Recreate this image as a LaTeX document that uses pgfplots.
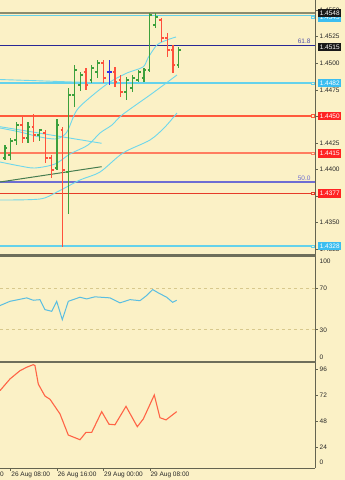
\documentclass[border=0pt]{standalone}
\usepackage{pgfplots}
\pgfplotsset{compat=1.18}
\usepackage{pgfplotstable}
\usepackage{fontspec}
\setmainfont{Liberation Sans}
\definecolor{bg}{RGB}{251,241,198}
\definecolor{barG}{RGB}{60,160,60}
\definecolor{barR}{RGB}{255,80,60}
\definecolor{barB}{RGB}{50,50,230}
\definecolor{cyanL}{RGB}{110,215,235}
\definecolor{cyanH}{RGB}{100,210,235}
\definecolor{olive}{RGB}{140,140,110}
\definecolor{navy}{RGB}{40,40,150}
\definecolor{fibblue}{RGB}{110,110,210}
\definecolor{redA}{RGB}{255,90,60}
\definecolor{redB}{RGB}{255,125,95}
\definecolor{redC}{RGB}{230,60,40}
\definecolor{dgreen}{RGB}{70,125,80}
\definecolor{rsi}{RGB}{90,190,225}
\definecolor{osc}{RGB}{255,100,70}
\definecolor{sepc}{RGB}{110,110,90}
\definecolor{axgray}{RGB}{100,100,80}
\definecolor{lvl}{RGB}{215,200,140}
\definecolor{boxK}{RGB}{25,25,25}
\definecolor{boxC}{RGB}{60,190,240}
\definecolor{boxR}{RGB}{255,35,35}
\definecolor{labc}{RGB}{40,40,40}

\pgfdeclareplotmark{openL}{\pgfpathmoveto{\pgfpoint{-2.3pt}{0pt}}\pgfpathlineto{\pgfpoint{0pt}{0pt}}\pgfusepathqstroke}
\pgfdeclareplotmark{closeR}{\pgfpathmoveto{\pgfpoint{0pt}{0pt}}\pgfpathlineto{\pgfpoint{2.3pt}{0pt}}\pgfusepathqstroke}

\pgfplotstableread{
h o hi lo c
-2 1.44071 1.44184 1.44043 1.44165
-1 1.44109 1.44231 1.44090 1.44203
0 1.44137 1.44297 1.44090 1.44269
1 1.44278 1.44448 1.44231 1.44419
3 1.44297 1.44448 1.44250 1.44401
5 1.44325 1.44382 1.44269 1.44372
8 1.44015 1.44476 1.43996 1.44419
10 1.43977 1.44767 1.43582 1.44702
11 1.44702 1.44984 1.44589 1.44937
12 1.44796 1.44918 1.44739 1.44890
14 1.44843 1.44984 1.44814 1.44956
15 1.44918 1.45031 1.44862 1.45003
20 1.44730 1.44871 1.44654 1.44843
21 1.44767 1.44890 1.44730 1.44862
22 1.44843 1.44937 1.44824 1.44918
23 1.44862 1.44956 1.44824 1.44937
24 1.44937 1.45473 1.44918 1.45454
25 1.45360 1.45473 1.45332 1.45435
29 1.44984 1.45153 1.44956 1.45125
}\greenbars
\pgfplotstableread{
h o hi lo c
2 1.44419 1.44495 1.44250 1.44297
4 1.44401 1.44523 1.44259 1.44325
6 1.44344 1.44372 1.44062 1.44109
7 1.44109 1.44137 1.43921 1.43996
9 1.44372 1.44401 1.43272 1.43996
13 1.44918 1.44956 1.44749 1.44796
16 1.45003 1.45031 1.44814 1.44862
18 1.44918 1.44965 1.44777 1.44824
19 1.44843 1.44890 1.44683 1.44730
26 1.45407 1.45426 1.45200 1.45238
27 1.45238 1.45285 1.45059 1.45125
28 1.45125 1.45172 1.44909 1.44984
}\redbars
\pgfplotstableread{
h o hi lo c
17 1.44918 1.45031 1.44796 1.44918
}\bluebars

\pgfplotsset{
  mt/.style={scale only axis, width=315pt, xmin=-1.845, xmax=52.47,
    axis y line*=right,
    y axis line style={draw=axgray, line width=0.8pt},
    ytick style={draw=axgray, line width=0.6pt},
    tick align=outside, major tick length=3pt,
    yticklabel style={font=\fontsize{6.5}{7}\selectfont, text=labc, inner sep=1.5pt},
    clip mode=individual,
    /pgf/number format/assume math mode=true},
  bars/.style={only marks, mark=openL, color=#1, line width=1.2pt,
    error bars/.cd, y dir=both, y explicit, error mark=none,
    error bar style={line width=1.2pt, color=#1}}
}
\tikzset{
  pbox/.style={anchor=west, fill=#1, text=white, inner xsep=1.6pt, inner ysep=1.4pt,
    font=\fontsize{6.5}{7}\selectfont, minimum height=8.5pt, text depth=0pt}
}

\begin{document}
\begin{tikzpicture}
\fill[bg] (0,0) rectangle (345pt,480pt);

% ---------------- main price panel
\begin{axis}[mt, axis x line=none, at={(0pt,225pt)}, anchor=south west, height=255pt,
  ymin=1.431964, ymax=1.455952,
  ytick={1.4325,1.4350,1.4375,1.4400,1.4425,1.4450,1.4475,1.4500,1.4525,1.4550},
  yticklabel style={/pgf/number format/.cd, fixed, fixed zerofill, precision=4}]
% horizontal levels
\addplot[olive, line width=2pt] coordinates {(-1.845,1.45473) (52.47,1.45473)};
\addplot[cyanH, line width=1.4pt] coordinates {(-1.845,1.45448) (52.47,1.45448)};
\addplot[navy, line width=0.9pt] coordinates {(-1.845,1.45172) (52.47,1.45172)};
\addplot[cyanH, line width=1.8pt] coordinates {(-1.845,1.44814) (52.47,1.44814)};
\addplot[redA, line width=1.5pt] coordinates {(-1.845,1.44504) (52.47,1.44504)};
\addplot[redB, line width=2.3pt] coordinates {(-1.845,1.44153) (52.47,1.44153)};
\addplot[fibblue, line width=1.4pt] coordinates {(-1.845,1.43883) (52.47,1.43883)};
\addplot[redC, line width=0.9pt] coordinates {(-1.845,1.43777) (52.47,1.43777)};
\addplot[cyanH, line width=1.8pt] coordinates {(-1.845,1.43281) (52.47,1.43281)};
% trendlines
\addplot[cyanL, line width=0.9pt] coordinates {(-1.845,1.444034) (15.69,1.442472)};
\addplot[dgreen, line width=1pt] coordinates {(-1.845,1.438832) (15.69,1.440271)};
% moving averages / bands
\addplot[cyanL, line width=0.9pt, smooth, tension=0.5] coordinates {
(-1.845,1.44847) (3.33,1.44838) (8.5,1.44828) (13.67,1.44819) (18.84,1.44814)};
\addplot[cyanL, line width=0.9pt, smooth, tension=0.5] coordinates {
(-1.845,1.443911) (1.6,1.443535) (5.05,1.443065) (7.64,1.442876) (9.02,1.443159)
(9.88,1.443723) (11.43,1.445605) (14.19,1.447016) (17.12,1.448238) (20.05,1.449085)
(22.81,1.449650) (23.67,1.450496) (25.22,1.451719) (26.95,1.452190) (28.5,1.452472)};
\addplot[cyanL, line width=0.9pt, smooth, tension=0.5] coordinates {
(-1.845,1.440713) (1.6,1.440337) (4.19,1.440149) (7.64,1.440525) (10.22,1.441466)
(13.33,1.442312) (15.4,1.443441) (17.47,1.444194) (19.19,1.445134) (24.02,1.447016)
(26.6,1.448050) (28.67,1.448897)};
\addplot[cyanL, line width=0.9pt, smooth, tension=0.5] coordinates {
(-1.845,1.437138) (5.05,1.437232) (7.98,1.437890) (11.95,1.439020) (15.4,1.439772)
(19.36,1.441560) (24.02,1.442782) (26.6,1.444005) (28.67,1.445322)};
% OHLC bars
\addplot[bars=barG] table[x=h, y=o, y error plus expr=\thisrow{hi}-\thisrow{o}, y error minus expr=\thisrow{o}-\thisrow{lo}] {\greenbars};
\addplot[only marks, mark=closeR, color=barG, line width=1.2pt] table[x=h, y=c] {\greenbars};
\addplot[bars=barR] table[x=h, y=o, y error plus expr=\thisrow{hi}-\thisrow{o}, y error minus expr=\thisrow{o}-\thisrow{lo}] {\redbars};
\addplot[only marks, mark=closeR, color=barR, line width=1.2pt] table[x=h, y=c] {\redbars};
\addplot[bars=barB] table[x=h, y=o, y error plus expr=\thisrow{hi}-\thisrow{o}, y error minus expr=\thisrow{o}-\thisrow{lo}] {\bluebars};
\addplot[only marks, mark=closeR, color=barB, line width=1.2pt] table[x=h, y=c] {\bluebars};
% fib texts
\node[anchor=south east, font=\fontsize{6.5}{7}\selectfont, text=navy!80, inner sep=1pt] at (axis cs:51.9,1.45172) {61.8};
\node[anchor=south east, font=\fontsize{6.5}{7}\selectfont, text=fibblue, inner sep=1pt] at (axis cs:51.9,1.43883) {50.0};
\coordinate (L1) at (axis cs:52.47,1.45473);
\coordinate (L1b) at (axis cs:52.47,1.45430);
\coordinate (L2) at (axis cs:52.47,1.45153);
\coordinate (L3) at (axis cs:52.47,1.44814);
\coordinate (L4) at (axis cs:52.47,1.44504);
\coordinate (L5) at (axis cs:52.47,1.44153);
\coordinate (L6) at (axis cs:52.47,1.43777);
\coordinate (L7) at (axis cs:52.47,1.43281);
\end{axis}
% price boxes
\node[pbox=boxC] at ([xshift=3pt]L1b) {1.4545};
\node[pbox=boxK] at ([xshift=3pt]L1) {1.4548};
\node[pbox=boxK] at ([xshift=3pt]L2) {1.4515};
\node[pbox=boxC] at ([xshift=3pt]L3) {1.4482};
\node[pbox=boxR] at ([xshift=3pt]L4) {1.4450};
\node[pbox=boxR] at ([xshift=3pt]L5) {1.4415};
\node[pbox=boxR] at ([xshift=3pt]L6) {1.4377};
\node[pbox=boxC] at ([xshift=3pt]L7) {1.4328};
\foreach \c/\col in {L1b/cyanH,L3/cyanH,L4/redA,L5/redB,L6/redC,L7/cyanH}{
  \draw[\col, line width=0.6pt, fill=bg] ([xshift=-3.2pt,yshift=-1.2pt]\c) rectangle ([xshift=-0.8pt,yshift=1.2pt]\c);}

% ---------------- RSI-like panel
\begin{axis}[mt, axis x line=none, at={(0pt,119pt)}, anchor=south west, height=104pt,
  ymin=0, ymax=100, ytick={30,70}]
\addplot[lvl, dashed, line width=0.7pt] coordinates {(-1.845,70) (52.47,70)};
\addplot[lvl, dashed, line width=0.7pt] coordinates {(-1.845,30) (52.47,30)};
\addplot[rsi, line width=1pt] coordinates {
(-1.845,53.3) (-0.12,57.4) (1.31,59) (2.76,60.7) (3.9,58.4) (5.05,59) (5.91,49.4)
(7.07,47.8) (7.93,57.4) (8.9,39.7) (9.93,57.4) (11.95,61.3) (13.1,59.7) (14.53,61.7)
(17.12,60.7) (18.84,55.9) (20.57,59) (22.29,58) (23.45,63) (24.48,68.7) (25.45,65.5)
(26.9,61.3) (27.93,56.4) (28.62,58.4)};
\node[anchor=west, font=\fontsize{6.5}{7}\selectfont, text=labc, inner sep=1.5pt] at ([xshift=3pt]rel axis cs:1,0.962) {100};
\node[anchor=west, font=\fontsize{6.5}{7}\selectfont, text=labc, inner sep=1.5pt] at ([xshift=3pt]rel axis cs:1,0.04) {0};
\end{axis}

% ---------------- oscillator panel
\begin{axis}[mt, at={(0pt,12pt)}, anchor=south west, height=105pt,
  ymin=4.6, ymax=101.5, ytick={24,48,72,96},
  axis x line*=bottom, x axis line style={draw=axgray, line width=0.8pt},
  xtick={0,8,16,24}, xtick style={draw=axgray, line width=0.6pt},
  xticklabels={26 Aug 08:00,26 Aug 16:00,29 Aug 00:00,29 Aug 08:00},
  xticklabel style={anchor=north west, font=\fontsize{6.5}{7}\selectfont, text=labc, inner sep=1pt, xshift=-0.5pt}]
\addplot[osc, line width=1.1pt] coordinates {
(-1.845,76) (-0.12,86.8) (1.6,94.4) (2.76,97.6) (3.9,100) (4.19,99) (4.76,82)
(5.91,71) (6.78,68) (8.5,54.5) (9.93,35) (11.95,30.7) (12.98,37.5) (13.97,37.5)
(15.69,56.6) (16.95,45) (17.98,44.5) (19.88,61.5) (21.83,42.7) (22.86,49.8)
(24.76,72) (25.74,51) (26.78,49) (28.62,56.6)};
\node[anchor=west, font=\fontsize{6.5}{7}\selectfont, text=labc, inner sep=1.5pt] at ([xshift=3pt]rel axis cs:1,0.05) {0};
\node[anchor=north west, font=\fontsize{6.5}{7}\selectfont, text=labc, inner sep=1pt, xshift=-0.5pt] at ([yshift=-3pt]axis cs:-8,4.6) {26 Aug 00:00};
\end{axis}

% panel separators
\draw[sepc, line width=2.4pt] (0pt,224.5pt) -- (316pt,224.5pt);
\draw[sepc, line width=2.4pt] (0pt,118pt) -- (316pt,118pt);

\pgfresetboundingbox
\useasboundingbox (0pt,0pt) rectangle (345pt,480pt);
\end{tikzpicture}
\end{document}
